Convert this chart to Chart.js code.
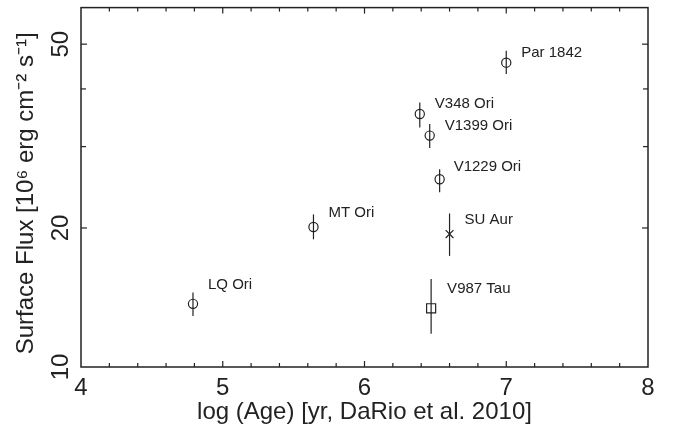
<!DOCTYPE html>
<html>
<head>
<meta charset="utf-8">
<script src="https://cdn.jsdelivr.net/npm/chart.js@4.4.1/dist/chart.umd.min.js"></script>
<style>
  html, body { margin: 0; padding: 0; background: #fff; }
</style>
</head>
<body>
<canvas id="fluxChart" width="673" height="437"></canvas>
<script>
// star names and measured values
const names = ['LQ Ori', 'MT Ori', 'V348 Ori', 'V1399 Ori', 'V1229 Ori', 'Par 1842', 'SU Aur', 'V987 Tau'];
const logAge = [4.79, 5.64, 6.39, 6.46, 6.53, 7.00, 6.60, 6.47];
const flux = [13.7, 20.1, 35.3, 31.7, 25.5, 45.6, 19.4, 13.4];
const fluxLow = [12.9, 18.9, 33.0, 29.8, 23.9, 43.1, 17.4, 11.8];
const fluxHigh = [14.5, 21.4, 37.4, 33.6, 26.8, 48.4, 21.5, 15.5];
const markers = ['circle', 'circle', 'circle', 'circle', 'circle', 'circle', 'crossRot', 'rect'];
const yTickLabels = [10, 20, 50];
const yMinorTicks = [30, 40];
const yTitle = 'Surface Flux [10⁶ erg cm⁻² s⁻¹]';

const ink = '#222';
const family = '"Liberation Sans", Arial, Helvetica, sans-serif';
const isWhole = v => Math.abs(v - Math.round(v)) < 1e-6;

// label nudges in px (dx, dy) from the marker
const labelShift = {
  'LQ Ori': [15, -19], 'MT Ori': [15, -14], 'V348 Ori': [15, -10], 'V1399 Ori': [15, -10],
  'V1229 Ori': [14, -12], 'Par 1842': [15, -10], 'SU Aur': [15, -14], 'V987 Tau': [16, -19]
};

const framePlugin = {
  id: 'frame',
  afterDatasetsDraw(chart) {
    const { ctx, chartArea: a, scales: { x, y } } = chart;
    const line = (x1, y1, x2, y2) => { ctx.beginPath(); ctx.moveTo(x1, y1); ctx.lineTo(x2, y2); ctx.stroke(); };
    ctx.save();
    ctx.strokeStyle = ink;

    // error bars
    ctx.lineWidth = 1.2;
    logAge.forEach((v, i) => {
      const px = x.getPixelForValue(v);
      line(px, y.getPixelForValue(fluxLow[i]), px, y.getPixelForValue(fluxHigh[i]));
    });

    // box
    ctx.lineWidth = 1.5;
    ctx.strokeRect(a.left, a.top, a.right - a.left, a.bottom - a.top);

    // inward ticks, mirrored
    ctx.lineWidth = 1.2;
    x.ticks.forEach(t => {
      const px = x.getPixelForValue(t.value);
      if (px <= a.left + 1 || px >= a.right - 1) return;
      const len = isWhole(t.value) ? 6 : 4;
      line(px, a.bottom, px, a.bottom - len);
      line(px, a.top, px, a.top + len);
    });
    yTickLabels.concat(yMinorTicks).forEach(v => {
      const py = y.getPixelForValue(v);
      if (py <= a.top + 1 || py >= a.bottom - 1) return;
      const len = yTickLabels.includes(v) ? 6 : 5;
      line(a.left, py, a.left + len, py);
      line(a.right, py, a.right - len, py);
    });

    // rotated y tick labels and axis title
    ctx.fillStyle = ink;
    ctx.font = '24px ' + family;
    ctx.textAlign = 'center';
    ctx.textBaseline = 'middle';
    yTickLabels.forEach(v => {
      ctx.save();
      ctx.translate(61, y.getPixelForValue(v));
      ctx.rotate(-Math.PI / 2);
      ctx.fillText(String(v), 0, 0);
      ctx.restore();
    });
    ctx.save();
    ctx.translate(26, (a.top + a.bottom) / 2 + 6);
    ctx.rotate(-Math.PI / 2);
    ctx.fillText(yTitle, 0, 0);
    ctx.restore();

    // star names
    ctx.font = '15px ' + family;
    ctx.textAlign = 'left';
    names.forEach((n, i) => {
      const [dx, dy] = labelShift[n];
      ctx.fillText(n, x.getPixelForValue(logAge[i]) + dx, y.getPixelForValue(flux[i]) + dy);
    });
    ctx.restore();
  }
};

const ctx = document.getElementById('fluxChart').getContext('2d');
const fluxChart = new Chart(ctx, {
  type: 'scatter',
  data: {
    datasets: [{
      data: logAge.map((v, i) => ({ x: v, y: flux[i] })),
      pointStyle: markers,
      pointRadius: markers.map(m => m === 'rect' ? 6.4 : m === 'crossRot' ? 5.5 : 4.6),
      pointBorderColor: ink,
      pointBackgroundColor: 'rgba(0,0,0,0)',
      pointBorderWidth: 1.2,
      showLine: false
    }]
  },
  options: {
    responsive: false,
    animation: false,
    devicePixelRatio: 1,
    layout: { padding: { top: 7, right: 25, bottom: 0, left: 0 } },
    plugins: { legend: { display: false }, tooltip: { enabled: false } },
    scales: {
      x: {
        type: 'linear',
        min: 4,
        max: 8,
        grid: { display: false, drawTicks: false },
        border: { display: false },
        ticks: {
          stepSize: 0.2,
          autoSkip: false,
          maxRotation: 0,
          padding: 7,
          color: ink,
          font: { family: family, size: 24 },
          callback: v => isWhole(v) ? String(Math.round(v)) : ''
        },
        title: {
          display: true,
          text: 'log (Age) [yr, DaRio et al. 2010]',
          color: ink,
          font: { family: family, size: 24 },
          padding: { top: 0, bottom: 10 }
        },
        afterFit: s => { s.height = 70; }
      },
      y: {
        type: 'logarithmic',
        min: 10,
        max: 60,
        grid: { display: false, drawTicks: false },
        border: { display: false },
        ticks: { display: false },
        title: { display: false },
        afterFit: s => { s.width = 81; }
      }
    }
  },
  plugins: [framePlugin]
});
</script>
</body>
</html>
